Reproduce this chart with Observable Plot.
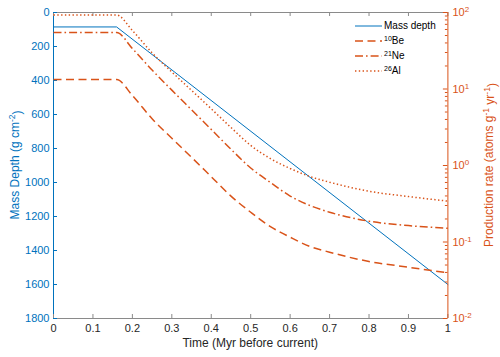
<!DOCTYPE html>
<html>
<head>
<meta charset="utf-8">
<script src="https://cdn.jsdelivr.net/npm/d3@7"></script>
<script src="https://cdn.jsdelivr.net/npm/@observablehq/plot@0.6"></script>
<style>
  html, body { margin: 0; padding: 0; background: #fff; }
  #wrap { position: relative; width: 500px; height: 357px; font-family: "Liberation Sans", Arial, sans-serif; }
  #wrap svg { position: absolute; left: 0; top: 0; }
  .leg { position: absolute; left: 355px; font-size: 10px; color: #000; line-height: 10px; white-space: nowrap; }
  .leg svg { position: static; vertical-align: middle; }
  .leg span { position: absolute; left: 29px; top: -5px; }
  .leg sup { font-size: 7px; position: relative; top: -1px; vertical-align: top; line-height: 7px; }
</style>
</head>
<body>
<div id="wrap"></div>
<script>
// ---- data ----
const time  = [0, 0.16, 0.2, 0.25, 0.3, 0.35, 0.4, 0.45, 0.5, 0.55, 0.6, 0.65, 0.7, 0.8, 0.9, 1.0];
const be10  = [13.3, 13.3, 8.22, 4.08, 2.27, 1.28, 0.714, 0.398, 0.245, 0.159, 0.1155, 0.0873, 0.0736, 0.0556, 0.0468, 0.0396];
const ne21  = [54.8, 54.8, 33.8, 17.7, 9.67, 5.35, 2.96, 1.63, 0.927, 0.600, 0.399, 0.300, 0.245, 0.187, 0.164, 0.151];
const al26  = [92.8, 92.8, 58.2, 29.6, 16.7, 9.59, 5.51, 3.14, 1.83, 1.23, 0.914, 0.718, 0.605, 0.461, 0.393, 0.342];
const depthTime = [0, 0.16, 1.0];
const massDepth = [85, 85, 1600];

const xTicks = [0, 0.1, 0.2, 0.3, 0.4, 0.5, 0.6, 0.7, 0.8, 0.9, 1];
const depthTicks = [0, 200, 400, 600, 800, 1000, 1200, 1400, 1600, 1800];
const rateTicks = [0.01, 0.1, 1, 10, 100];
const rateExponents = ["-2", "-1", "0", "1", "2"];
const minorRateTicks = [2,3,4,5,6,7,8,9].flatMap(m => [0.01, 0.1, 1, 10].map(d => m * d));

const seriesNames = ["Mass depth", "10Be", "21Ne", "26Al"];

// ---- styling ----
const BLUE = "#0072BD", ORANGE = "#D95319", FRAME = "#8a8a8a";
const W = 500, H = 357, ML = 53, MR = 52.6, MT = 12, MB = 39;
const plotW = W - ML - MR, plotH = H - MT - MB;
const font = "'Liberation Sans', Arial, sans-serif";

const depthData = depthTime.map((t, i) => ({t, d: massDepth[i]}));
const rateSeries = [
  {name: seriesNames[1], values: be10, dash: "8,4.5", width: 1.5, cap: "butt"},
  {name: seriesNames[2], values: ne21, dash: "8,3,1.6,3", width: 1.5, cap: "butt"},
  {name: seriesNames[3], values: al26, dash: "1.4,2.4", width: 1.5, cap: "butt"}
];

const common = {
  width: W, height: H, marginLeft: ML, marginRight: MR, marginTop: MT, marginBottom: MB,
  style: {background: "transparent", fontFamily: font, fontSize: "11px", overflow: "visible"}
};

// Left chart: x axis, mass-depth axis, blue line, frame
const left = Plot.plot({
  ...common,
  x: {domain: [0, 1]},
  y: {domain: [0, 1800], reverse: true},
  marks: [
    Plot.ruleY([0], {stroke: FRAME, strokeWidth: 1}),
    Plot.ruleY([1800], {stroke: FRAME, strokeWidth: 1}),
    Plot.ruleX([0], {stroke: BLUE, strokeWidth: 1}),
    Plot.tickX(xTicks, {x: d => d, stroke: FRAME, insetTop: plotH - 4}),
    Plot.tickX(xTicks, {x: d => d, stroke: FRAME, insetBottom: plotH - 4}),
    Plot.tickY(depthTicks, {y: d => d, stroke: BLUE, insetRight: plotW - 4}),
    Plot.axisX(xTicks, {anchor: "bottom", tickSize: 0, tickPadding: 6, label: null, tickFormat: d => String(d), fill: "#262626", fontSize: 11}),
    Plot.axisY(depthTicks, {anchor: "left", tickSize: 0, tickPadding: 4, label: null, tickFormat: d => String(d), fill: BLUE, fontSize: 11}),
    Plot.line(depthData, {x: "t", y: "d", stroke: BLUE, strokeWidth: 1})
  ]
});

// Right chart: log production rate axis, orange lines
const right = Plot.plot({
  ...common,
  x: {domain: [0, 1], axis: null},
  y: {type: "log", domain: [0.01, 100]},
  marks: [
    Plot.ruleX([1], {stroke: ORANGE, strokeWidth: 1}),
    Plot.tickY(rateTicks, {y: d => d, stroke: ORANGE, insetLeft: plotW - 4.5}),
    Plot.tickY(minorRateTicks, {y: d => d, stroke: ORANGE, insetLeft: plotW - 2.5}),
    Plot.axisY(rateTicks, {anchor: "right", tickSize: 0, tickPadding: 4.5, label: null,
      tickFormat: d => rateExponents[rateTicks.indexOf(d)], fill: ORANGE, fontSize: 11}),
    ...rateSeries.map(s => Plot.line(time.map((t, i) => ({t, v: s.values[i]})), {
      x: "t", y: "v", stroke: ORANGE, strokeWidth: s.width, strokeDasharray: s.dash,
      strokeLinecap: s.cap, curve: "monotone-x"
    }))
  ]
});

const wrap = document.getElementById("wrap");
wrap.appendChild(left);
wrap.appendChild(right);

// superscript tick labels "10^n" on right axis
d3.select(right).selectAll('g[aria-label="y-axis tick label"] text').each(function() {
  const el = d3.select(this);
  const exp = el.text();
  el.text("");
  el.append("tspan").text("10");
  el.append("tspan").attr("dy", "-0.45em").attr("font-size", "8px").text(exp);
});

// axis titles
const ls = d3.select(left);
ls.append("text")
  .attr("x", ML + plotW / 2).attr("y", 347)
  .attr("text-anchor", "middle").attr("font-size", 12).attr("fill", "#262626")
  .text("Time (Myr before current)");

const yl = ls.append("text")
  .attr("transform", `translate(19,${MT + plotH / 2}) rotate(-90)`)
  .attr("text-anchor", "middle").attr("font-size", 12).attr("fill", BLUE);
yl.append("tspan").text("Mass Depth (g cm");
yl.append("tspan").attr("dy", "-0.45em").attr("font-size", "8.5px").text("-2");
yl.append("tspan").attr("dy", "0.45em").text(")");

const rs = d3.select(right);
const yr = rs.append("text")
  .attr("transform", `translate(492.5,${MT + plotH / 2}) rotate(-90)`)
  .attr("text-anchor", "middle").attr("font-size", 12).attr("fill", ORANGE);
yr.append("tspan").text("Production rate (atoms g");
yr.append("tspan").attr("dy", "-0.45em").attr("font-size", "8.5px").text("-1");
yr.append("tspan").attr("dy", "0.45em").text(" yr");
yr.append("tspan").attr("dy", "-0.45em").attr("font-size", "8.5px").text("-1");
yr.append("tspan").attr("dy", "0.45em").text(")");

// legend (inside the axes, top-right)
const legendItems = [
  {label: seriesNames[0], color: BLUE, dash: null, width: 1},
  {label: seriesNames[1], color: ORANGE, dash: rateSeries[0].dash, width: 1.5},
  {label: seriesNames[2], color: ORANGE, dash: rateSeries[1].dash, width: 1.5},
  {label: seriesNames[3], color: ORANGE, dash: rateSeries[2].dash, width: 1.5}
];
legendItems.forEach((it, i) => {
  const row = document.createElement("div");
  row.className = "leg";
  row.style.top = (25.7 + 15.1 * i) + "px";
  const m = it.label.match(/^(\d+)(.*)$/);
  const labelHtml = m ? `<sup>${m[1]}</sup>${m[2]}` : it.label;
  row.innerHTML = `<svg width="27" height="4" style="position:absolute;left:0;top:-2px;overflow:visible">
      <line x1="0" x2="27" y1="2" y2="2" stroke="${it.color}" stroke-width="${it.width}" ${it.dash ? `stroke-dasharray="${it.dash}"` : ""}/></svg>
    <span>${labelHtml}</span>`;
  wrap.appendChild(row);
});
</script>
</body>
</html>
